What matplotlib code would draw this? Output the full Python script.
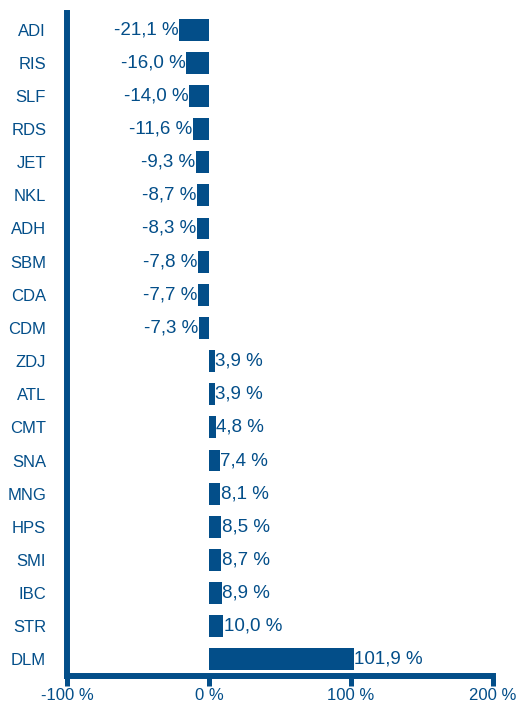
import numpy as np
import matplotlib.pyplot as plt

plt.rcParams['font.family'] = ['Liberation Sans', 'DejaVu Sans']

# Data (top to bottom)
tickers = ['ADI', 'RIS', 'SLF', 'RDS', 'JET', 'NKL', 'ADH', 'SBM', 'CDA', 'CDM',
           'ZDJ', 'ATL', 'CMT', 'SNA', 'MNG', 'HPS', 'SMI', 'IBC', 'STR', 'DLM']
changes = [-21.1, -16.0, -14.0, -11.6, -9.3, -8.7, -8.3, -7.8, -7.7, -7.3,
           3.9, 3.9, 4.8, 7.4, 8.1, 8.5, 8.7, 8.9, 10.0, 101.9]
x_ticks = [-100, 0, 100, 200]

blue = '#034e89'

fig = plt.figure(figsize=(5.18, 7.06), dpi=100)
ax = fig.add_axes([0.1293, 0.0425, 0.8225, 0.9391])

y = np.arange(len(tickers))
ax.barh(y, changes, height=0.66, color=blue)

for yi, v in zip(y, changes):
    txt = f"{v:.1f}".replace('.', ',') + ' %'
    if v < 0:
        ax.text(v - 0.4, yi, txt, ha='right', va='center', color=blue, fontsize=13.5)
    else:
        ax.text(v + 0.4, yi, txt, ha='left', va='center', color=blue, fontsize=13.5)

ax.set_xlim(-100, 200)
ax.set_ylim(len(tickers) - 0.5, -0.5)
ax.set_yticks(y)
ax.set_yticklabels(tickers)
ax.set_xticks(x_ticks)
ax.set_xticklabels([f"{t} %" for t in x_ticks])

ax.tick_params(axis='y', length=0, pad=15, labelsize=12, labelcolor=blue)
ax.tick_params(axis='x', length=7, width=3.6, color=blue, pad=1.5, labelsize=12, labelcolor=blue)
for lbl in ax.get_yticklabels():
    lbl.set_horizontalalignment('right')

for s in ['top', 'right']:
    ax.spines[s].set_visible(False)
ax.spines['left'].set_color(blue)
ax.spines['left'].set_linewidth(4.3)
ax.spines['bottom'].set_color(blue)
ax.spines['bottom'].set_linewidth(4.3)

plt.savefig('out.png', dpi=100)
